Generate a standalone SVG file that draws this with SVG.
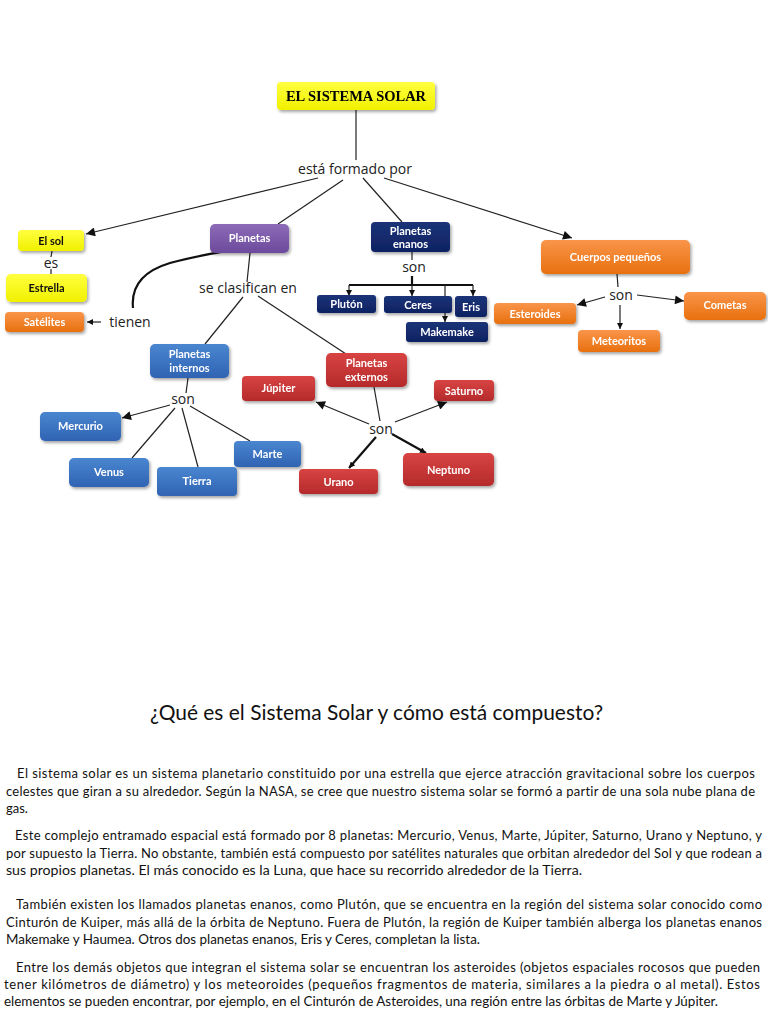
<svg xmlns="http://www.w3.org/2000/svg" width="768" height="1024" viewBox="0 0 768 1024">
<defs>
<style>
text{font-variant-ligatures:none;font-feature-settings:"liga" 0,"dlig" 0}
.lbl{font-family:"Open Sans","DejaVu Sans",sans-serif;font-size:14px;fill:#222;text-anchor:middle}
.nt{font-family:Lato,"Liberation Sans",sans-serif;font-size:11px;font-weight:bold;fill:#fff;text-anchor:middle}
.ntd{font-family:Lato,"Liberation Sans",sans-serif;font-size:11px;font-weight:bold;fill:#111;text-anchor:middle}
.ln{stroke:#222;stroke-width:1.2;fill:none}
.lnb{stroke:#111;stroke-width:2.2;fill:none}
.para{font-family:Lato,"Liberation Sans",sans-serif;font-size:13px;fill:#111}
</style>
<linearGradient id="gY" x1="0" y1="0" x2="0" y2="1"><stop offset="0" stop-color="#FFFF40"/><stop offset="1" stop-color="#F0F000"/></linearGradient>
<linearGradient id="gO" x1="0" y1="0" x2="0" y2="1"><stop offset="0" stop-color="#F9954A"/><stop offset="1" stop-color="#E8700E"/></linearGradient>
<linearGradient id="gP" x1="0" y1="0" x2="0" y2="1"><stop offset="0" stop-color="#8E6BB8"/><stop offset="1" stop-color="#6C4A9C"/></linearGradient>
<linearGradient id="gN" x1="0" y1="0" x2="0" y2="1"><stop offset="0" stop-color="#1B3478"/><stop offset="1" stop-color="#0E2262"/></linearGradient>
<linearGradient id="gB" x1="0" y1="0" x2="0" y2="1"><stop offset="0" stop-color="#4A86D0"/><stop offset="1" stop-color="#2F63B3"/></linearGradient>
<linearGradient id="gR" x1="0" y1="0" x2="0" y2="1"><stop offset="0" stop-color="#D84443"/><stop offset="1" stop-color="#B52A2B"/></linearGradient>
<filter id="sh" x="-10%" y="-20%" width="130%" height="160%"><feDropShadow dx="1.5" dy="2" stdDeviation="1.5" flood-color="#000" flood-opacity="0.35"/></filter>
<marker id="ar" viewBox="0 0 10 10" refX="10" refY="5" markerWidth="11" markerHeight="9" markerUnits="userSpaceOnUse" orient="auto"><path d="M0,0 L10,5 L0,10 z" fill="#111"/></marker>
<marker id="ars" viewBox="0 0 10 10" refX="10" refY="5" markerWidth="7" markerHeight="6" markerUnits="userSpaceOnUse" orient="auto"><path d="M0,0 L10,5 L0,10 z" fill="#111"/></marker>
</defs>
<rect width="768" height="1024" fill="#fff"/>

<g id="connectors">
<line class="ln" x1="356" y1="110" x2="356" y2="160"/>
<line class="ln" x1="318" y1="178" x2="86" y2="234" marker-end="url(#ar)"/>
<line class="ln" x1="343" y1="180" x2="278" y2="224"/>
<line class="ln" x1="363" y1="178" x2="402" y2="222"/>
<line class="ln" x1="384" y1="178" x2="572" y2="238" marker-end="url(#ar)"/>
<line class="ln" x1="52" y1="251" x2="51" y2="257"/>
<line class="ln" x1="51" y1="269" x2="51" y2="274"/>
<line class="ln" x1="101" y1="322" x2="87" y2="322" stroke-width="1.5" marker-end="url(#ars)"/>
<path class="lnb" d="M133,308 C131,288 140,272 170,263 C195,256 222,252 247,247"/>
<line class="ln" x1="250" y1="253" x2="247" y2="282"/>
<line class="ln" x1="243" y1="297" x2="205" y2="344"/>
<line class="ln" x1="258" y1="296" x2="346" y2="354"/>
<line class="ln" x1="412" y1="252" x2="412" y2="260"/>
<path class="lnb" d="M412,276 V285 M349,285 H473" stroke-width="2"/>
<line class="ln" stroke-width="1.8" x1="349" y1="285" x2="349" y2="296" marker-end="url(#ars)"/>
<line class="ln" stroke-width="1.8" x1="412" y1="285" x2="412" y2="296" marker-end="url(#ars)"/>
<line class="ln" stroke-width="1.8" x1="445" y1="285" x2="445" y2="322" marker-end="url(#ars)"/>
<line class="ln" stroke-width="1.8" x1="473" y1="285" x2="473" y2="296" marker-end="url(#ars)"/>
<line class="ln" x1="617" y1="274" x2="618" y2="287"/>
<line class="ln" stroke-width="1.5" x1="605" y1="297" x2="577" y2="305" marker-end="url(#ar)"/>
<line class="ln" stroke-width="1.5" x1="637" y1="295" x2="684" y2="301" marker-end="url(#ar)"/>
<line class="ln" stroke-width="2" x1="620" y1="305" x2="620" y2="329" marker-end="url(#ars)"/>
<line class="ln" x1="188" y1="378" x2="186" y2="393"/>
<line class="ln" stroke-width="1.5" x1="170" y1="405" x2="122" y2="418" marker-end="url(#ar)"/>
<line class="ln" x1="175" y1="408" x2="132" y2="458"/>
<line class="ln" x1="182" y1="408" x2="198" y2="467"/>
<line class="ln" x1="190" y1="406" x2="250" y2="441"/>
<line class="ln" x1="374" y1="387" x2="380" y2="421"/>
<line class="ln" stroke-width="1.5" x1="369" y1="424" x2="316" y2="402" marker-end="url(#ar)"/>
<line class="ln" stroke-width="1.5" x1="395" y1="422" x2="447" y2="402" marker-end="url(#ar)"/>
<line class="lnb" x1="376" y1="437" x2="349" y2="468" marker-end="url(#ars)"/>
<line class="lnb" x1="392" y1="434" x2="426" y2="453" marker-end="url(#ars)"/>
</g>

<g id="link-labels">
<text class="lbl" x="355" y="174">está formado por</text>
<text class="lbl" x="51" y="268">es</text>
<text class="lbl" x="130" y="327">tienen</text>
<text class="lbl" x="248" y="293">se clasifican en</text>
<text class="lbl" x="414" y="272">son</text>
<text class="lbl" x="621" y="300">son</text>
<text class="lbl" x="183" y="404">son</text>
<text class="lbl" x="381" y="434">son</text>
</g>

<g id="node-sistema-solar" filter="url(#sh)">
<rect x="277" y="82" width="158" height="28" rx="4" fill="url(#gY)"/>
<text x="356" y="101" font-family="'Liberation Serif',serif" font-weight="bold" font-size="14.5" fill="#000" text-anchor="middle">EL SISTEMA SOLAR</text>
</g>
<g id="node-el-sol" filter="url(#sh)">
<rect x="18" y="230" width="66" height="21" rx="4" fill="url(#gY)"/>
<text class="ntd" x="51" y="244.5">El sol</text>
</g>
<g id="node-estrella" filter="url(#sh)">
<rect x="6" y="274" width="81" height="28" rx="5" fill="url(#gY)"/>
<text class="ntd" x="46.5" y="292">Estrella</text>
</g>
<g id="node-satelites" filter="url(#sh)">
<rect x="5" y="312" width="79" height="20" rx="4" fill="url(#gO)"/>
<text class="nt" x="44.5" y="326" fill="#FCE4D0">Satélites</text>
</g>
<g id="node-planetas" filter="url(#sh)">
<rect x="210" y="224" width="79" height="29" rx="5" fill="url(#gP)"/>
<text class="nt" x="249.5" y="242">Planetas</text>
</g>
<g id="node-planetas-enanos" filter="url(#sh)">
<rect x="371" y="222" width="79" height="30" rx="4" fill="url(#gN)"/>
<text class="nt" x="410.5" y="234.5" font-size="10.5">Planetas</text>
<text class="nt" x="410.5" y="247.5" font-size="10.5">enanos</text>
</g>
<g id="node-pluton" filter="url(#sh)">
<rect x="317" y="295" width="59" height="18" rx="3" fill="url(#gN)"/>
<text class="nt" x="346.5" y="308">Plutón</text>
</g>
<g id="node-ceres" filter="url(#sh)">
<rect x="384" y="296" width="68" height="17" rx="3" fill="url(#gN)"/>
<text class="nt" x="418" y="308.5">Ceres</text>
</g>
<g id="node-eris" filter="url(#sh)">
<rect x="455" y="296" width="32" height="21" rx="3" fill="url(#gN)"/>
<text class="nt" x="471" y="310.5">Eris</text>
</g>
<g id="node-makemake" filter="url(#sh)">
<rect x="406" y="322" width="82" height="20" rx="3" fill="url(#gN)"/>
<text class="nt" x="447" y="336">Makemake</text>
</g>
<g id="node-cuerpos" filter="url(#sh)">
<rect x="541" y="240" width="149" height="34" rx="5" fill="url(#gO)"/>
<text class="nt" x="615.5" y="260.5">Cuerpos pequeños</text>
</g>
<g id="node-esteroides" filter="url(#sh)">
<rect x="494" y="303" width="82" height="21" rx="4" fill="url(#gO)"/>
<text class="nt" x="535" y="317.5">Esteroides</text>
</g>
<g id="node-cometas" filter="url(#sh)">
<rect x="684" y="292" width="82" height="28" rx="5" fill="url(#gO)"/>
<text class="nt" x="725" y="309">Cometas</text>
</g>
<g id="node-meteoritos" filter="url(#sh)">
<rect x="578" y="330" width="82" height="22" rx="4" fill="url(#gO)"/>
<text class="nt" x="619" y="345">Meteoritos</text>
</g>
<g id="node-planetas-internos" filter="url(#sh)">
<rect x="150" y="344" width="79" height="34" rx="5" fill="url(#gB)"/>
<text class="nt" x="189.5" y="358">Planetas</text>
<text class="nt" x="189.5" y="372">internos</text>
</g>
<g id="node-mercurio" filter="url(#sh)">
<rect x="40" y="412" width="81" height="29" rx="5" fill="url(#gB)"/>
<text class="nt" x="80.5" y="430">Mercurio</text>
</g>
<g id="node-venus" filter="url(#sh)">
<rect x="69" y="458" width="80" height="29" rx="5" fill="url(#gB)"/>
<text class="nt" x="109" y="476">Venus</text>
</g>
<g id="node-tierra" filter="url(#sh)">
<rect x="157" y="467" width="80" height="29" rx="4" fill="url(#gB)"/>
<text class="nt" x="197" y="485">Tierra</text>
</g>
<g id="node-marte" filter="url(#sh)">
<rect x="234" y="441" width="67" height="26" rx="4" fill="url(#gB)"/>
<text class="nt" x="267.5" y="457.5">Marte</text>
</g>
<g id="node-planetas-externos" filter="url(#sh)">
<rect x="326" y="353" width="81" height="34" rx="5" fill="url(#gR)"/>
<text class="nt" x="366.5" y="367">Planetas</text>
<text class="nt" x="366.5" y="381">externos</text>
</g>
<g id="node-jupiter" filter="url(#sh)">
<rect x="242" y="376" width="73" height="25" rx="4" fill="url(#gR)"/>
<text class="nt" x="278.5" y="392">Júpiter</text>
</g>
<g id="node-saturno" filter="url(#sh)">
<rect x="434" y="380" width="60" height="21" rx="4" fill="url(#gR)"/>
<text class="nt" x="464" y="394.5">Saturno</text>
</g>
<g id="node-urano" filter="url(#sh)">
<rect x="299" y="469" width="79" height="25" rx="4" fill="url(#gR)"/>
<text class="nt" x="338.5" y="485.5">Urano</text>
</g>
<g id="node-neptuno" filter="url(#sh)">
<rect x="403" y="453" width="91" height="33" rx="5" fill="url(#gR)"/>
<text class="nt" x="448.5" y="473.5">Neptuno</text>
</g>

<g id="article">
<text x="376.5" y="720" font-family="Lato,'Liberation Sans',sans-serif" font-size="21" fill="#111" text-anchor="middle" textLength="453" lengthAdjust="spacingAndGlyphs">¿Qué es el Sistema Solar y cómo está compuesto?</text>
<text class="para" x="17" y="778" textLength="738" lengthAdjust="spacing">El sistema solar es un sistema planetario constituido por una estrella que ejerce atracción gravitacional sobre los cuerpos</text>
<text class="para" x="6" y="795.5" textLength="749" lengthAdjust="spacing">celestes que giran a su alrededor. Según la NASA, se cree que nuestro sistema solar se formó a partir de una sola nube plana de</text>
<text class="para" x="6" y="813">gas.</text>
<text class="para" x="15" y="840" textLength="747" lengthAdjust="spacing">Este complejo entramado espacial está formado por 8 planetas: Mercurio, Venus, Marte, Júpiter, Saturno, Urano y Neptuno, y</text>
<text class="para" x="6" y="858" textLength="756" lengthAdjust="spacing">por supuesto la Tierra. No obstante, también está compuesto por satélites naturales que orbitan alrededor del Sol y que rodean a</text>
<text class="para" x="6" y="875" textLength="576" lengthAdjust="spacingAndGlyphs">sus propios planetas. El más conocido es la Luna, que hace su recorrido alrededor de la Tierra.</text>
<text class="para" x="16" y="909" textLength="746" lengthAdjust="spacing">También existen los llamados planetas enanos, como Plutón, que se encuentra en la región del sistema solar conocido como</text>
<text class="para" x="6" y="927" textLength="756" lengthAdjust="spacing">Cinturón de Kuiper, más allá de la órbita de Neptuno. Fuera de Plutón, la región de Kuiper también alberga los planetas enanos</text>
<text class="para" x="6" y="944" textLength="474" lengthAdjust="spacingAndGlyphs">Makemake y Haumea. Otros dos planetas enanos, Eris y Ceres, completan la lista.</text>
<text class="para" x="16" y="972" textLength="744" lengthAdjust="spacing">Entre los demás objetos que integran el sistema solar se encuentran los asteroides (objetos espaciales rocosos que pueden</text>
<text class="para" x="4" y="989" textLength="756" lengthAdjust="spacing">tener kilómetros de diámetro) y los meteoroides (pequeños fragmentos de materia, similares a la piedra o al metal). Estos</text>
<text class="para" x="4" y="1006" textLength="714" lengthAdjust="spacingAndGlyphs">elementos se pueden encontrar, por ejemplo, en el Cinturón de Asteroides, una región entre las órbitas de Marte y Júpiter.</text>
</g>
</svg>
